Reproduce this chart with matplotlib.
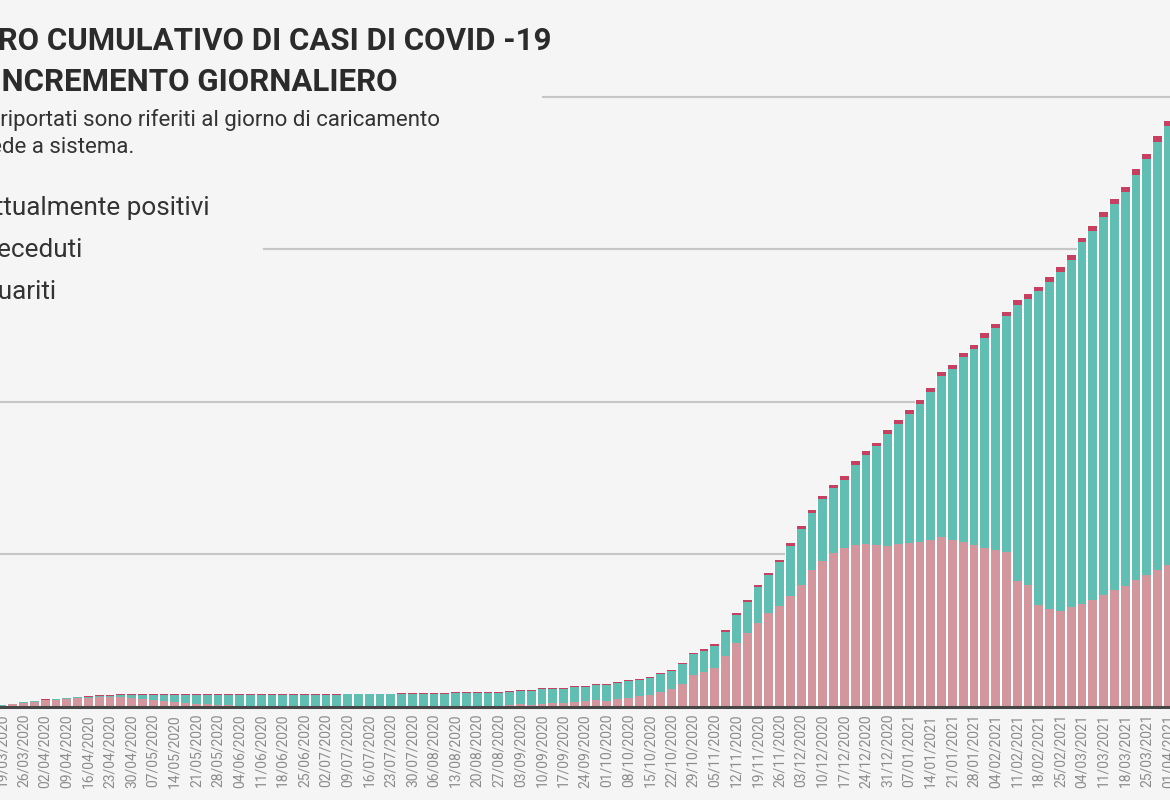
import pandas as pd
import matplotlib
matplotlib.use("Agg")
import matplotlib.pyplot as plt
import matplotlib.dates as mdates

plt.rcParams['font.family'] = ['Roboto', 'DejaVu Sans']

# Dati (una barra ogni mezza settimana, a partire dal 19/03/2020)
data_inizio = "2020-03-19"

positivi = [930, 1950, 2940, 3420, 4400, 4680, 5220, 5750, 6000, 6290, 6280, 6340,
            6040, 5490, 4880, 4220, 3350, 2680, 2090, 1750, 1420, 1150, 950, 820,
            700, 650, 650, 600, 600, 550, 550, 500, 500, 500, 500, 500,
            520, 540, 560, 580, 600, 650, 650, 700, 700, 700, 800,
            1000, 1650, 1510, 2280, 2340, 2460, 3490, 3610, 4450, 4170, 5200, 6100,
            7000, 8150, 10020, 11490, 15190, 21030, 22940, 25510,
            33180, 41960, 48520, 55080, 61640, 65960, 72520, 80000, 89830, 95470,
            100980, 104260, 105960, 106880, 106420, 105770, 106880, 107530, 108190,
            109700, 111340, 109310, 108060, 106220, 104190, 102940, 101630, 82420,
            79860, 66880, 64520, 63210, 65770, 67860, 70420, 73440, 76520, 79080,
            83210, 86290, 90090, 93440]

guariti = [70, 100, 160, 230, 300, 390, 520, 660, 790, 980, 1180, 1510,
           1900, 2490, 3150, 3800, 4720, 5380, 5970, 6360, 6690, 6950, 7150, 7280,
           7445, 7495, 7495, 7540, 7590, 7640, 7640, 7685, 7735, 7735, 7735, 7780,
           7780, 7790, 7800, 7810, 7820, 7830, 8410, 8420, 8430, 8445, 8450,
           8920, 9110, 9250, 9380, 9510, 9570, 9640, 9700, 9970, 10230, 10490, 10690,
           10820, 10950, 11470, 12130, 12790, 13440, 14100, 14750,
           15930, 18490, 20330, 23540, 24790, 28850, 33380, 36720, 37510, 40720,
           42620, 44910, 52980, 58550, 64450, 73570, 78950, 84780, 90680,
           96980, 105500, 112580, 121370, 128450, 138020, 145700, 154550, 181430,
           187860, 205890, 214480, 222280, 227330, 236770, 241820, 247790, 253560, 258610,
           265950, 272900, 280700, 287460]

deceduti = [100, 150, 200, 250, 300, 330, 360, 390, 410, 430, 440, 450,
            460, 470, 475, 480, 485, 490, 490, 495, 495, 500, 500, 500,
            505, 505, 505, 510, 510, 510, 510, 515, 515, 515, 520, 520,
            520, 525, 525, 530, 530, 535, 540, 545, 550, 555, 560,
            570, 580, 590, 600, 610, 620, 635, 650, 665, 680, 700, 720,
            740, 770, 800, 840, 880, 930, 990, 1050,
            1120, 1200, 1280, 1370, 1460, 1550, 1640, 1730, 1820, 1900,
            1980, 2050, 2120, 2180, 2240, 2300, 2360, 2410, 2460,
            2510, 2560, 2610, 2660, 2700, 2740, 2780, 2820, 2860,
            2900, 2940, 2980, 3020, 3060, 3100, 3140, 3180, 3230, 3280,
            3330, 3390, 3450, 3520]

titolo = ["NUMERO CUMULATIVO DI CASI DI COVID -19", "E INCREMENTO GIORNALIERO"]
nota = ["I dati riportati sono riferiti al giorno di caricamento",
        "delle schede a sistema."]
voci = ["Attualmente positivi", "Deceduti", "Guariti"]
griglia = [100000, 200000, 300000, 400000]

date = pd.date_range(data_inizio, periods=len(positivi), freq="84h")
etichette = pd.date_range(data_inizio, "2021-04-01", freq="7D")

sfondo = "#f5f5f5"
rosa = "#d4969d"
verde = "#60beb2"
rosso = "#c8405f"

s1 = [p + g for p, g in zip(positivi, guariti)]
totale = [a + d for a, d in zip(s1, deceduti)]

fig = plt.figure(figsize=(11.7, 8), dpi=100, facecolor=sfondo)
ax = fig.add_axes([0, 93 / 800, 1, 707 / 800])
ax.set_facecolor(sfondo)

# griglia (le due righe alte sono coperte dal blocco del titolo)
ax.axhline(griglia[0], color="#c6c6c6", lw=1.5, zorder=0.5)
ax.axhline(griglia[1], color="#c6c6c6", lw=1.5, zorder=0.5)
ax.axhline(griglia[2], xmin=264 / 1170, color="#c6c6c6", lw=1.5, zorder=0.5)
ax.axhline(griglia[3], xmin=543 / 1170, color="#c6c6c6", lw=1.5, zorder=0.5)

ax.bar(date, totale, width=3.5, color="white", lw=0, zorder=1)
ax.bar(date, positivi, width=2.85, color=rosa, lw=0, zorder=2)
ax.bar(date, guariti, width=2.85, bottom=positivi, color=verde, lw=0, zorder=2)
ax.bar(date, deceduti, width=2.85, bottom=s1, color=rosso, lw=0, zorder=2)

ax.axhline(0, color="#474747", lw=2.2, zorder=5, clip_on=False)

d0 = mdates.date2num(pd.Timestamp(data_inizio))
ax.set_xlim(d0 - 0.65, d0 + 378.5)
ax.set_ylim(0, 463600)

ax.set_xticks(etichette)
ax.set_xticklabels([d.strftime("%d/%m/%Y") for d in etichette], rotation=90,
                   fontsize=10, color="#8c8c8c")
ax.tick_params(axis="x", length=0, pad=5)
ax.set_yticks([])
for s in ax.spines.values():
    s.set_visible(False)

# titolo, nota e legenda (tagliati a sinistra come nell'immagine)
fig.text(551 / 1170, 1 - 50 / 800, titolo[0], ha="right", va="baseline",
         fontsize=22.5, fontweight="bold", color="#2b2b2b")
fig.text(398 / 1170, 1 - 91 / 800, titolo[1], ha="right", va="baseline",
         fontsize=22.5, fontweight="bold", color="#2b2b2b")
fig.text(440 / 1170, 1 - 126 / 800, nota[0], ha="right", va="baseline",
         fontsize=16, color="#333333")
fig.text(134 / 1170, 1 - 153 / 800, nota[1], ha="right", va="baseline",
         fontsize=16, color="#333333")
fig.text(210 / 1170, 1 - 215 / 800, voci[0], ha="right", va="baseline",
         fontsize=18.8, color="#333333")
fig.text(83 / 1170, 1 - 257 / 800, voci[1], ha="right", va="baseline",
         fontsize=18.8, color="#333333")
fig.text(57 / 1170, 1 - 299 / 800, voci[2], ha="right", va="baseline",
         fontsize=18.8, color="#333333")

fig.savefig("out.png", dpi=100, facecolor=sfondo)
